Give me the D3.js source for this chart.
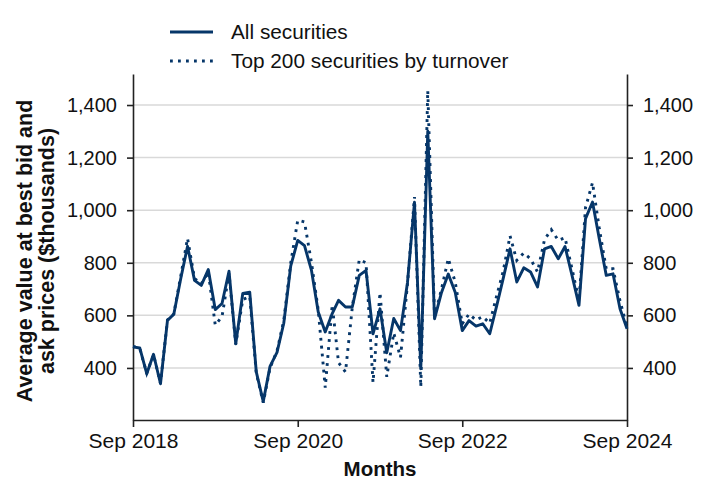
<!DOCTYPE html>
<html>
<head>
<meta charset="utf-8">
<script src="https://cdn.jsdelivr.net/npm/d3@7"></script>
<style>
  html, body { margin: 0; padding: 0; background: #fff; }
  svg { display: block; font-family: "Liberation Sans", Arial, sans-serif; }
</style>
</head>
<body>
<svg id="chart" width="708" height="496"></svg>
<script>
// ---- data ----
const startMonth = "2018-09";
const allSecurities = [
  480, 476, 378, 452, 340, 581, 604, 740, 863, 733, 714, 774, 622, 645, 768, 492,
  683, 688, 385, 272, 406, 459, 570, 788, 885, 865, 771, 613, 537, 607, 657, 632,
  632, 752, 771, 530, 625, 458, 588, 542, 725, 1030, 397, 1300, 587, 687, 757, 687,
  542, 580, 559, 568, 530, 637, 738, 853, 727, 781, 765, 708, 853, 862, 815, 862,
  752, 638, 968, 1031, 891, 752, 758, 625, 549
];
const top200 = [
  482, 474, 380, 450, 342, 583, 605, 750, 893, 740, 720, 765, 563, 595, 760, 490,
  660, 672, 380, 268, 400, 465, 580, 800, 962, 955, 800, 620, 325, 640, 420, 385,
  630, 812, 800, 345, 687, 366, 533, 440, 720, 1050, 328, 1455, 595, 700, 816, 725,
  568, 605, 582, 595, 570, 675, 765, 902, 809, 837, 815, 765, 888, 926, 885, 895,
  777, 657, 1010, 1105, 930, 777, 777, 655, 555
];
const yTicks = [400, 600, 800, 1000, 1200, 1400];
const xTickLabels = ["Sep 2018", "Sep 2020", "Sep 2022", "Sep 2024"];
const seriesNames = ["All securities", "Top 200 securities by turnover"];

// ---- layout ----
const W = 708, H = 496;
const m = { left: 133, right: 81, top: 74, bottom: 76 };
const color = "#063669";
const svg = d3.select("#chart");

const parseMonth = d3.timeParse("%Y-%m");
const t0 = parseMonth(startMonth);
const dates = allSecurities.map((_, i) => d3.timeMonth.offset(t0, i));
const tickDates = xTickLabels.map(s => d3.timeParse("%b %Y")(s));

const x = d3.scaleTime()
  .domain([dates[0], dates[dates.length - 1]])
  .range([m.left, W - m.right]);
const y = d3.scaleLinear()
  .domain([202, 1518])
  .range([H - m.bottom, m.top]);

// gridlines
svg.append("g")
  .selectAll("line")
  .data(yTicks)
  .join("line")
  .attr("x1", m.left).attr("x2", W - m.right)
  .attr("y1", d => y(d)).attr("y2", d => y(d))
  .attr("stroke", "#d9d9d9").attr("stroke-width", 1.5);

const fmt = d3.format(",");

function styleAxis(g, size) {
  g.select(".domain").attr("stroke", "#222").attr("stroke-width", 1.6);
  g.selectAll(".tick line").attr("stroke", "#222").attr("stroke-width", 1.6);
  g.selectAll(".tick text").attr("fill", "#111").style("font-size", size)
    .style("font-family", '"Liberation Sans", Arial, sans-serif');
}

// left axis
svg.append("g")
  .attr("transform", `translate(${m.left},0)`)
  .call(d3.axisLeft(y).tickValues(yTicks).tickFormat(fmt).tickSize(6).tickSizeOuter(0).tickPadding(10))
  .call(g => styleAxis(g, "20px"));

// right axis
svg.append("g")
  .attr("transform", `translate(${W - m.right},0)`)
  .call(d3.axisRight(y).tickValues(yTicks).tickFormat(fmt).tickSize(6).tickSizeOuter(0).tickPadding(10))
  .call(g => styleAxis(g, "20px"));

// bottom axis
svg.append("g")
  .attr("transform", `translate(0,${H - m.bottom})`)
  .call(d3.axisBottom(x).tickValues(tickDates).tickFormat((d, i) => xTickLabels[i]).tickSize(7).tickSizeOuter(0).tickPadding(6))
  .call(g => styleAxis(g, "21px"));

// lines
const line = d3.line()
  .x((d, i) => x(dates[i]))
  .y(d => y(d));

svg.append("path")
  .datum(top200)
  .attr("d", line)
  .attr("fill", "none")
  .attr("stroke", color)
  .attr("stroke-width", 2.9)
  .attr("stroke-dasharray", "2.8,5.2");

svg.append("path")
  .datum(allSecurities)
  .attr("d", line)
  .attr("fill", "none")
  .attr("stroke", color)
  .attr("stroke-width", 2.9)
  .attr("stroke-linejoin", "round");

// axis titles
svg.append("text")
  .attr("x", (m.left + W - m.right) / 2)
  .attr("y", 476)
  .attr("text-anchor", "middle")
  .style("font-size", "20.5px")
  .style("font-weight", "bold")
  .attr("fill", "#111")
  .text("Months");

const yt = svg.append("text")
  .attr("transform", "translate(24,251) rotate(-90)")
  .attr("text-anchor", "middle")
  .style("font-size", "21.5px")
  .style("font-weight", "bold")
  .attr("fill", "#111");
yt.append("tspan").attr("x", 0).attr("y", 0).attr("dy", "0.35em").text("Average value at best bid and");
yt.append("tspan").attr("x", 0).attr("y", 22).attr("dy", "0.35em").text("ask prices ($thousands)");

// legend
const legend = svg.append("g");
const legY = [32, 61];
legend.selectAll("line")
  .data(seriesNames)
  .join("line")
  .attr("x1", 170).attr("x2", 213)
  .attr("y1", (d, i) => legY[i]).attr("y2", (d, i) => legY[i])
  .attr("stroke", color)
  .attr("stroke-width", 2.9)
  .attr("stroke-dasharray", (d, i) => i === 1 ? "2.8,5.2" : null);
legend.selectAll("text")
  .data(seriesNames)
  .join("text")
  .attr("x", 231)
  .attr("y", (d, i) => legY[i])
  .attr("dy", "0.35em")
  .style("font-size", "20.8px")
  .attr("fill", "#111")
  .text(d => d);
</script>
</body>
</html>
